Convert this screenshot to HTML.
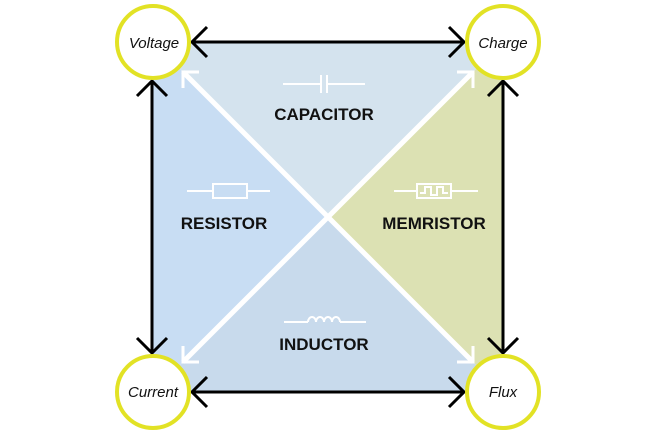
<!DOCTYPE html>
<html><head><style>body{margin:0;background:#fff}</style></head><body>
<svg width="660" height="433" viewBox="0 0 660 433" xmlns="http://www.w3.org/2000/svg" font-family="Liberation Sans, sans-serif">
<polygon points="153,42 503,42 328,217" fill="#d4e3ee"/>
<polygon points="153,42 153,392 328,217" fill="#c8ddf3"/>
<polygon points="503,42 503,392 328,217" fill="#dce1b3"/>
<polygon points="153,392 503,392 328,217" fill="#c8daec"/>
<g stroke="#fff" stroke-width="5" fill="none">
<line x1="183" y1="72" x2="473" y2="362"/>
<line x1="183" y1="362" x2="473" y2="72"/>
</g>
<g stroke="#fff" stroke-width="3" fill="none">
<polyline points="183,88 183,72 199,72"/>
<polyline points="457,72 473,72 473,88"/>
<polyline points="183,346 183,362 199,362"/>
<polyline points="457,362 473,362 473,346"/>
</g>
<g stroke="#000" stroke-width="3" fill="none">
<line x1="192" y1="42" x2="464" y2="42"/>
<polyline points="207,27 192,42 207,57"/><polyline points="449,27 464,42 449,57"/>
<line x1="192" y1="392" x2="464" y2="392"/>
<polyline points="207,377 192,392 207,407"/><polyline points="449,377 464,392 449,407"/>
<line x1="152" y1="81" x2="152" y2="353"/>
<polyline points="137,96 152,81 167,96"/><polyline points="137,338 152,353 167,338"/>
<line x1="503" y1="81" x2="503" y2="353"/>
<polyline points="488,96 503,81 518,96"/><polyline points="488,338 503,353 518,338"/>
</g>
<g stroke="#fff" stroke-width="2" fill="none">
<line x1="283" y1="84" x2="321" y2="84"/><line x1="321" y1="75" x2="321" y2="93"/><line x1="327" y1="75" x2="327" y2="93"/><line x1="327" y1="84" x2="365" y2="84"/>
<line x1="187" y1="191" x2="213" y2="191"/><rect x="213" y="184" width="34" height="14"/><line x1="247" y1="191" x2="270" y2="191"/>
<line x1="394" y1="191" x2="417" y2="191"/><rect x="417" y="184" width="34" height="14"/><polyline points="420,193 425,193 425,187 431,187 431,195 437,195 437,187 443,187 443,193 448,193"/><line x1="451" y1="191" x2="478" y2="191"/>
<path d="M284,322 H308 M308,322 a4,5 0 0 1 8,0 a4,5 0 0 1 8,0 a4,5 0 0 1 8,0 a4,5 0 0 1 8,0 M340,322 H366"/>
</g>
<g font-size="17" font-weight="bold" fill="#111" text-anchor="middle">
<text x="324" y="120">CAPACITOR</text>
<text x="224" y="229">RESISTOR</text>
<text x="434" y="229">MEMRISTOR</text>
<text x="324" y="350">INDUCTOR</text>
</g>
<g stroke="#e2e225" stroke-width="4" fill="#fff">
<circle cx="153" cy="42" r="36"/><circle cx="503" cy="42" r="36"/>
<circle cx="153" cy="392" r="36"/><circle cx="503" cy="392" r="36"/>
</g>
<g font-size="15" font-style="italic" fill="#111" text-anchor="middle">
<text x="154" y="48">Voltage</text><text x="503" y="48">Charge</text>
<text x="153" y="397">Current</text><text x="503" y="397">Flux</text>
</g>
</svg>
</body></html>
